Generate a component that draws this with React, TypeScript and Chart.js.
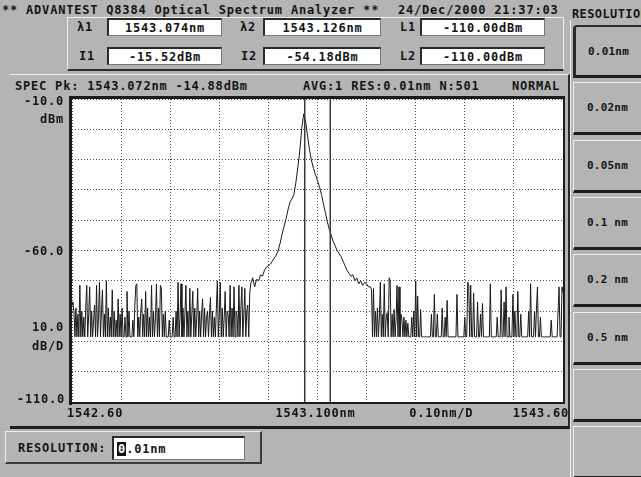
import React, { useEffect, useRef } from "react";
import { Chart, registerables } from "chart.js";

Chart.register(...registerables);

// ---------- data ----------
const X_MIN = 1542.6;
const X_MAX = 1543.6;
const X_STEP = 0.1;
const Y_MIN = -110;
const Y_MAX = -10;
const Y_STEP = 10;
const MARKER_L1_NM = 1543.074;
const MARKER_L2_NM = 1543.126;

// sampling of each trace segment (start wavelength, step in nm)
const LEFT_START_NM = 1542.6;
const LEFT_STEP_NM = 0.002;
const PEAK_START_NM = 1542.964;
const PEAK_STEP_NM = 0.004;
const RIGHT_START_NM = 1543.208;
const RIGHT_STEP_NM = 0.002;

// noise floor region left of the peak (1542.600 .. 1542.962)
const NOISE_LEFT_DBM = [
  -77, -78, -80, -88.5, -79, -88.5, -81, -88.5, -71.5, -88.5,
  -80, -88.5, -82, -88.5, -79, -71.5, -88.5, -81, -72, -88.5,
  -80, -88.5, -83, -78, -88.5, -71.5, -88.5, -82, -70.5, -88.5,
  -80, -73, -88.5, -81, -88.5, -70, -88.5, -79, -88.5, -82,
  -88.5, -73, -88.5, -80, -88.5, -83, -88.5, -76, -88.5, -81,
  -88.5, -79, -88.5, -88.5, -82, -88.5, -73.5, -88.5, -80, -88.5,
  -88.5, -88.5, -83, -88.5, -78, -71.5, -71, -88.5, -82, -88.5,
  -80, -76, -88.5, -81, -88.5, -73.5, -88.5, -79, -88.5, -82,
  -88.5, -71.5, -88.5, -80, -88.5, -82, -71, -88.5, -79, -88.5,
  -71.5, -72.5, -88.5, -81, -88.5, -80, -88.5, -88.5, -88.5, -83,
  -88.5, -88.5, -88.5, -82, -88.5, -88.5, -80, -88.5, -70.5, -88.5,
  -82, -71, -88.5, -79, -88.5, -81, -71.5, -88.5, -80, -88.5,
  -72.5, -88.5, -81, -73.5, -88.5, -79, -88.5, -82, -72.5, -88.5,
  -80, -88.5, -81, -76, -88.5, -79, -88.5, -82, -80, -88.5,
  -81, -75.5, -88.5, -80, -88.5, -82, -88.5, -79, -70, -88.5,
  -81, -70.5, -88.5, -79, -88.5, -82, -73.5, -88.5, -80, -81,
  -88.5, -71.5, -88.5, -79, -88.5, -72, -88.5, -80, -81, -88.5,
  -71.5, -88.5, -79, -72, -88.5, -81, -72.5, -88.5, -80, -78,
  -88.5, -74,
];

// peak region (1542.964 .. 1543.204)
const PEAK_DBM = [
  -71, -69, -72, -69.5, -70, -68, -68.5, -66.5, -65.5, -65,
  -64.5, -63.5, -62.5, -61.5, -60, -57.5, -54.5, -52, -49.5, -46.5,
  -44, -43, -41.5, -37.5, -32.5, -27, -19.5, -14.9, -17.5, -22.5,
  -27, -30.5, -33, -35, -37, -39, -41.5, -44.5, -47.5, -50.5,
  -53, -55, -57, -58.5, -60, -61, -62, -63.5, -65, -66.5,
  -67.5, -68.5, -68, -70, -69, -71, -70, -71.5, -70.5, -71,
  -72,
];

// noise floor region right of the peak (1543.208 .. 1543.600)
const NOISE_RIGHT_DBM = [
  -72, -73, -88.5, -72.5, -88.5, -80, -88.5, -79, -88.5, -82,
  -70.5, -88.5, -81, -88.5, -71, -88.5, -82, -80.5, -88.5, -69,
  -70, -88.5, -81, -88.5, -79.5, -88.5, -83, -71.5, -88.5, -72,
  -88.5, -81, -83, -88.5, -82, -88.5, -83, -88.5, -84, -88.5,
  -88.5, -88.5, -82, -88.5, -80, -88.5, -70, -88.5, -75, -88.5,
  -88.5, -79.5, -88.5, -88.5, -88.5, -88.5, -88.5, -88.5, -88.5, -88.5,
  -88.5, -88.5, -81, -88.5, -88.5, -74.5, -88.5, -88.5, -81, -88.5,
  -88.5, -88.5, -88.5, -79, -88.5, -88.5, -82, -88.5, -76.5, -88.5,
  -88.5, -88.5, -88.5, -88.5, -88.5, -88.5, -88.5, -88.5, -74.5, -88.5,
  -88.5, -88.5, -88.5, -88.5, -88.5, -88.5, -82, -88.5, -88.5, -70.5,
  -71.5, -88.5, -71.5, -88.5, -88.5, -74, -88.5, -88.5, -88.5, -77,
  -88.5, -88.5, -81, -88.5, -77.5, -88.5, -88.5, -88.5, -88.5, -88.5,
  -88.5, -88.5, -71, -88.5, -88.5, -88.5, -88.5, -88.5, -88.5, -82,
  -88.5, -88.5, -88.5, -73, -88.5, -88.5, -77, -88.5, -72, -88.5,
  -88.5, -82, -88.5, -88.5, -88.5, -74.5, -88.5, -80, -88.5, -88.5,
  -73.5, -88.5, -88.5, -81, -88.5, -88.5, -88.5, -88.5, -88.5, -88.5,
  -88.5, -80, -88.5, -71, -88.5, -88.5, -88.5, -80, -88.5, -79,
  -72, -88.5, -88.5, -82, -88.5, -88.5, -88.5, -88.5, -88.5, -88.5,
  -88.5, -88.5, -88.5, -88.5, -83, -88.5, -88.5, -88.5, -88.5, -88.5,
  -88.5, -80, -72, -88.5, -88.5, -72, -74,
];

// ---------- texts ----------
const TITLE = "** ADVANTEST Q8384 Optical Spectrum Analyzer **";
const TIMESTAMP = "24/Dec/2000 21:37:03";
const MENU_TITLE = "RESOLUTION";
const MARKER_ROW1 = [
  { label: "λ1", value: "1543.074nm" },
  { label: "λ2", value: "1543.126nm" },
  { label: "L1", value: "-110.00dBm" },
];
const MARKER_ROW2 = [
  { label: "I1", value: "-15.52dBm" },
  { label: "I2", value: "-54.18dBm" },
  { label: "L2", value: "-110.00dBm" },
];
const SPEC_PEAK = "SPEC Pk: 1543.072nm -14.88dBm";
const SPEC_INFO = "AVG:1 RES:0.01nm N:501";
const SPEC_MODE = "NORMAL";
const Y_TOP_LABEL = "-10.0";
const Y_UNIT_LABEL = "dBm";
const Y_MID_LABEL = "-60.0";
const Y_DIV_LABEL = "10.0";
const Y_DIV_UNIT = "dB/D";
const Y_BOTTOM_LABEL = "-110.0";
const X_START_LABEL = "1542.60";
const X_CENTER_LABEL = "1543.100nm";
const X_DIV_LABEL = "0.10nm/D";
const X_END_LABEL = "1543.60";
const BUTTON_LABELS = ["0.01nm", "0.02nm", "0.05nm", "0.1 nm", "0.2 nm", "0.5 nm", "", ""];
const ENTRY_LABEL = "RESOLUTION:";
const ENTRY_CURSOR = "0";
const ENTRY_REST = ".01nm";

const FONT = '"DejaVu Sans Mono", "Liberation Mono", monospace';
const BG = "#b4b4b4";
const INK = "#141414";

function segment(values: number[], start: number, step: number) {
  return values.map((v, i) => ({ x: +(start + i * step).toFixed(3), y: v }));
}

const framePlugin = {
  id: "osaFrame",
  beforeDraw(chart: any) {
    const { ctx, chartArea: a } = chart;
    ctx.save();
    ctx.fillStyle = "#ffffff";
    ctx.fillRect(a.left, a.top, a.right - a.left, a.bottom - a.top);
    ctx.restore();
  },
  afterDraw(chart: any) {
    const { ctx, chartArea: a, scales } = chart;
    const xs = scales.x;
    const ys = scales.y;
    ctx.save();
    ctx.fillStyle = "#1a1a1a";
    ctx.fillRect(a.left - 3, a.top - 3, a.right - a.left + 5, 3);
    ctx.fillRect(a.left - 3, a.top - 3, 3, a.bottom - a.top + 6);
    ctx.fillRect(a.left - 3, a.bottom, a.right - a.left + 5, 2);
    ctx.fillRect(a.right, a.top - 3, 2, a.bottom - a.top + 5);

    ctx.font = `bold 12px ${FONT}`;
    try {
      (ctx as any).letterSpacing = "0.8px";
    } catch (e) {}
    ctx.fillStyle = INK;
    ctx.textBaseline = "middle";

    // y labels
    ctx.textAlign = "right";
    const lx = a.left - 8;
    ctx.fillText(Y_TOP_LABEL, lx, ys.getPixelForValue(Y_MAX) + 3);
    ctx.fillText(Y_UNIT_LABEL, lx, ys.getPixelForValue(Y_MAX) + 21);
    ctx.fillText(Y_MID_LABEL, lx, ys.getPixelForValue(-60) + 1);
    ctx.fillText(Y_DIV_LABEL, lx, ys.getPixelForValue(-85.5));
    ctx.fillText(Y_DIV_UNIT, lx, ys.getPixelForValue(-91.8));
    ctx.fillText(Y_BOTTOM_LABEL, lx + 1, ys.getPixelForValue(Y_MIN) - 2);

    // x labels
    const ly = a.bottom + 12;
    ctx.textAlign = "left";
    ctx.fillText(X_START_LABEL, xs.getPixelForValue(X_MIN) - 5, ly);
    ctx.textAlign = "center";
    ctx.fillText(X_CENTER_LABEL, xs.getPixelForValue(1543.1) - 2, ly);
    ctx.fillText(X_DIV_LABEL, xs.getPixelForValue(1543.35) + 1, ly);
    ctx.textAlign = "right";
    ctx.fillText(X_END_LABEL, xs.getPixelForValue(X_MAX) + 6, ly);
    ctx.restore();
  },
};

function Txt(props: { left: number; cy: number; text: string; style?: any }) {
  return (
    <div
      style={{
        position: "absolute",
        left: props.left,
        top: props.cy - 7,
        height: 14,
        lineHeight: "14px",
        whiteSpace: "pre",
        ...(props.style || {}),
      }}
    >
      {props.text}
    </div>
  );
}

function ValueBox(props: { left: number; top: number; width: number; text: string }) {
  return (
    <div
      style={{
        position: "absolute",
        left: props.left,
        top: props.top,
        width: props.width,
        height: 18,
        boxSizing: "border-box",
        background: "#ffffff",
        borderTop: "2px solid #2a2a2a",
        borderLeft: "2px solid #2a2a2a",
        borderRight: "1px solid #777",
        borderBottom: "1px solid #777",
        display: "flex",
        alignItems: "center",
        justifyContent: "center",
        lineHeight: "14px",
      }}
    >
      {props.text}
    </div>
  );
}

export default function App() {
  const canvasRef = useRef<HTMLCanvasElement>(null);

  useEffect(() => {
    const canvas = canvasRef.current;
    if (!canvas) return;
    const traceData = [
      ...segment(NOISE_LEFT_DBM, LEFT_START_NM, LEFT_STEP_NM),
      ...segment(PEAK_DBM, PEAK_START_NM, PEAK_STEP_NM),
      ...segment(NOISE_RIGHT_DBM, RIGHT_START_NM, RIGHT_STEP_NM),
    ];
    const gridOpts = { color: "#4a4a4a", lineWidth: 1, drawTicks: false };
    const chart = new Chart(canvas, {
      type: "line",
      data: {
        datasets: [
          {
            data: [
              { x: MARKER_L1_NM, y: Y_MAX },
              { x: MARKER_L1_NM, y: Y_MIN },
            ],
            borderColor: "#3a3a3a",
            borderWidth: 1.5,
            pointRadius: 0,
          },
          {
            data: [
              { x: MARKER_L2_NM, y: Y_MAX },
              { x: MARKER_L2_NM, y: Y_MIN },
            ],
            borderColor: "#3a3a3a",
            borderWidth: 1.5,
            pointRadius: 0,
          },
          {
            data: traceData,
            borderColor: "#1a1a1a",
            borderWidth: 1,
            pointRadius: 0,
            tension: 0,
          },
        ],
      },
      options: {
        responsive: false,
        animation: false,
        devicePixelRatio: 1,
        events: [],
        layout: { padding: { left: 72, top: 99, right: 78, bottom: 75 } },
        plugins: { legend: { display: false }, tooltip: { enabled: false } },
        scales: {
          x: {
            type: "linear",
            min: X_MIN,
            max: X_MAX,
            ticks: { display: false, stepSize: X_STEP },
            grid: gridOpts,
            border: { display: false, dash: [1, 2] },
          },
          y: {
            type: "linear",
            min: Y_MIN,
            max: Y_MAX,
            ticks: { display: false, stepSize: Y_STEP },
            grid: gridOpts,
            border: { display: false, dash: [1, 2] },
          },
        },
      } as any,
      plugins: [framePlugin],
    });
    return () => chart.destroy();
  }, []);

  const buttonTops = BUTTON_LABELS.map((_, i) => Math.round(25 + i * 57.3));

  return (
    <div
      style={{
        position: "fixed",
        left: 0,
        top: 0,
        width: 641,
        height: 477,
        overflow: "hidden",
        background: BG,
        fontFamily: FONT,
        fontWeight: "bold",
        fontSize: 12,
        letterSpacing: "0.8px",
        color: INK,
      }}
    >
      {/* header */}
      <Txt left={2} cy={10} text={TITLE} />
      <Txt left={398} cy={10} text={TIMESTAMP} />
      <div
        style={{
          position: "absolute",
          left: 572,
          top: 7,
          width: 69,
          height: 14,
          overflow: "hidden",
          lineHeight: "14px",
          letterSpacing: "0.4px",
          whiteSpace: "pre",
        }}
      >
        {MENU_TITLE}
      </div>

      {/* marker panel */}
      <div
        style={{
          position: "absolute",
          left: 67,
          top: 17,
          width: 497,
          height: 54,
          boxSizing: "border-box",
          borderTop: "1px solid #efefef",
          borderLeft: "1px solid #efefef",
          borderRight: "1px solid #efefef",
          borderBottom: "2px solid #2a2a2a",
        }}
      />
      <Txt left={77} cy={27} text={MARKER_ROW1[0].label} />
      <ValueBox left={107} top={18} width={115} text={MARKER_ROW1[0].value} />
      <Txt left={240} cy={27} text={MARKER_ROW1[1].label} />
      <ValueBox left={263} top={18} width={118} text={MARKER_ROW1[1].value} />
      <Txt left={400} cy={27} text={MARKER_ROW1[2].label} />
      <ValueBox left={420} top={18} width={125} text={MARKER_ROW1[2].value} />
      <Txt left={79} cy={56} text={MARKER_ROW2[0].label} />
      <ValueBox left={107} top={47} width={115} text={MARKER_ROW2[0].value} />
      <Txt left={241} cy={56} text={MARKER_ROW2[1].label} />
      <ValueBox left={263} top={47} width={118} text={MARKER_ROW2[1].value} />
      <Txt left={400} cy={56} text={MARKER_ROW2[2].label} />
      <ValueBox left={420} top={47} width={125} text={MARKER_ROW2[2].value} />

      {/* spectrum panel */}
      <div
        style={{
          position: "absolute",
          left: 10,
          top: 74,
          width: 560,
          height: 355,
          boxSizing: "border-box",
          borderTop: "1px solid #efefef",
          borderRight: "2px solid #2a2a2a",
          borderBottom: "3px solid #1e1e1e",
        }}
      />
      <Txt left={15} cy={86} text={SPEC_PEAK} />
      <Txt left={303} cy={86} text={SPEC_INFO} />
      <Txt left={512} cy={86} text={SPEC_MODE} />

      {/* entry panel */}
      <div
        style={{
          position: "absolute",
          left: 5,
          top: 431,
          width: 257,
          height: 33,
          boxSizing: "border-box",
          borderTop: "1px solid #efefef",
          borderLeft: "1px solid #efefef",
          borderRight: "2px solid #3a3a3a",
          borderBottom: "2px solid #3a3a3a",
        }}
      />
      <Txt left={18} cy={448} text={ENTRY_LABEL} />
      <div
        style={{
          position: "absolute",
          left: 112,
          top: 436,
          width: 133,
          height: 24,
          boxSizing: "border-box",
          background: "#ffffff",
          borderTop: "2px solid #2a2a2a",
          borderLeft: "2px solid #2a2a2a",
          borderRight: "1px solid #777",
          borderBottom: "1px solid #777",
          display: "flex",
          alignItems: "center",
          paddingLeft: 3,
          lineHeight: "14px",
          whiteSpace: "pre",
        }}
      >
        <span style={{ background: "#111", color: "#fff", letterSpacing: 0, padding: "0 1px" }}>
          {ENTRY_CURSOR}
        </span>
        <span>{ENTRY_REST}</span>
      </div>

      {/* soft-key column */}
      <div
        style={{
          position: "absolute",
          left: 570,
          top: 20,
          width: 1,
          height: 457,
          background: "#efefef",
        }}
      />
      {BUTTON_LABELS.map((label, i) => (
        <div
          key={i}
          style={{
            position: "absolute",
            left: 573,
            top: buttonTops[i],
            width: 68,
            height: 53,
            boxSizing: "border-box",
            borderTop: i === 0 ? "2px solid #2a2a2a" : "1px solid #efefef",
            borderLeft: i === 0 ? "3px solid #2a2a2a" : "1px solid #efefef",
            borderBottom: "3px solid #1e1e1e",
            borderTopLeftRadius: i === 0 ? 4 : 0,
            display: "flex",
            alignItems: "center",
            justifyContent: "center",
            fontSize: 11,
            letterSpacing: "0.2px",
          }}
        >
          {label}
        </div>
      ))}

      <canvas
        ref={canvasRef}
        width={641}
        height={477}
        style={{
          position: "absolute",
          left: 0,
          top: 0,
          width: 641,
          height: 477,
          zIndex: 2,
          pointerEvents: "none",
        }}
      />
    </div>
  );
}
